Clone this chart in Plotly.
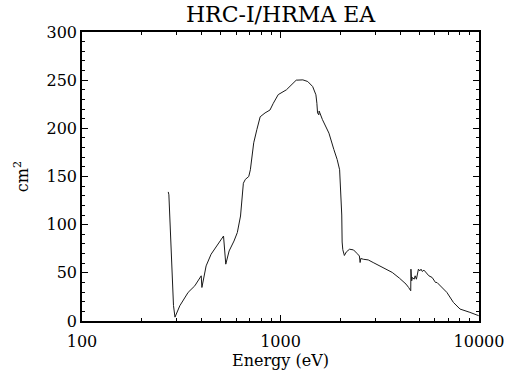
import plotly.graph_objects as go

# Effective area of HRC-I + HRMA
energy_ev = [272, 274, 289, 294, 311, 342.5, 370, 398.6, 401.8, 422, 447, 482, 516.4,
             530, 551, 583, 606, 629, 641, 650, 665, 692, 705, 718, 733, 760, 790,
             836, 885, 920, 974, 1071, 1134, 1200, 1296, 1372, 1452, 1508, 1525, 1537,
             1560, 1565, 1627, 1754, 1857, 1930, 1985, 2000, 2020, 2035, 2044, 2060,
             2098, 2146, 2228, 2333, 2425, 2497, 2518, 2538, 2614, 2767, 2930, 3101,
             3244, 3656, 3972, 4289, 4419, 4530, 4540, 4580, 4621, 4713, 4768, 4839,
             4953, 5028, 5105, 5180, 5280, 5420, 5592, 5807, 6038, 6145, 6887, 7431,
             8025, 8993, 9697, 9966]
area_cm2 = [134, 131, 16, 4, 15.8, 29.7, 36.5, 46.9, 34.8, 57.2, 69.3, 79.7, 88.2,
            59, 72.7, 83, 91.8, 109, 133, 143, 147, 150, 157, 171, 185, 198.6, 212,
            216, 219, 226, 235, 240, 245, 250, 250.3, 248.6, 243.4, 234.8, 226, 216,
            214, 218, 209, 195, 178, 167.6, 157, 145, 135, 110, 82, 74,
            68, 71.7, 74.5, 73.8, 70.3, 67.5, 60.7, 64.9, 64.1, 63.4, 60.7, 57.9,
            55.5, 50.4, 44.5, 38.3, 34.8, 31.4, 53.8, 41.7, 45.2, 43.4, 46.9, 43.4,
            53.8, 52, 53.8, 51.4, 52.8, 50.4, 46.9, 45.2, 40, 40, 29.7, 19.3,
            12.4, 9, 6.5, 5.5]

x_major_ticks = [100, 1000, 10000]
x_major_labels = ["100", "1000", "10000"]
x_minor_ticks = [200, 300, 400, 500, 600, 700, 800, 900,
                 2000, 3000, 4000, 5000, 6000, 7000, 8000, 9000]
y_major_ticks = [0, 50, 100, 150, 200, 250, 300]

FONT = "DejaVu Serif"

fig = go.Figure()
fig.add_trace(go.Scatter(
    x=energy_ev, y=area_cm2, mode="lines",
    line=dict(color="#1a1a1a", width=1),
    showlegend=False, hoverinfo="skip",
))

fig.update_layout(
    width=516, height=379,
    margin=dict(l=82, r=30, t=32, b=57),
    paper_bgcolor="white", plot_bgcolor="white",
    font=dict(family=FONT, color="black", size=16),
    title=dict(text="HRC-I/HRMA EA", x=0.5, xanchor="center", xref="paper",
               y=0.962, yanchor="middle",
               font=dict(family=FONT, size=22, color="black")),
)

fig.update_xaxes(
    type="log", range=[2, 4],
    tickmode="array", tickvals=x_major_ticks, ticktext=x_major_labels,
    ticks="inside", ticklen=6, tickwidth=1, tickcolor="black",
    ticklabelstandoff=5,
    minor=dict(tickmode="array", tickvals=x_minor_ticks, ticks="inside",
               ticklen=3, tickwidth=1, tickcolor="black", showgrid=False),
    showline=True, linecolor="black", linewidth=1.5, mirror="ticks",
    showgrid=False, zeroline=False,
    tickfont=dict(family=FONT, size=16),
    title=dict(text="Energy (eV)", font=dict(family=FONT, size=16), standoff=5),
)
fig.update_yaxes(
    range=[0, 300],
    tickmode="array", tickvals=y_major_ticks,
    ticks="inside", ticklen=6, tickwidth=1, tickcolor="black",
    minor=dict(dtick=10, ticks="inside", ticklen=3, tickwidth=1,
               tickcolor="black", showgrid=False),
    showline=True, linecolor="black", linewidth=1.5, mirror="ticks",
    showgrid=False, zeroline=False,
    tickfont=dict(family=FONT, size=16),
    title=dict(text="cm<sup>2</sup>", font=dict(family=FONT, size=16), standoff=14),
)

fig.write_html("out.html")
